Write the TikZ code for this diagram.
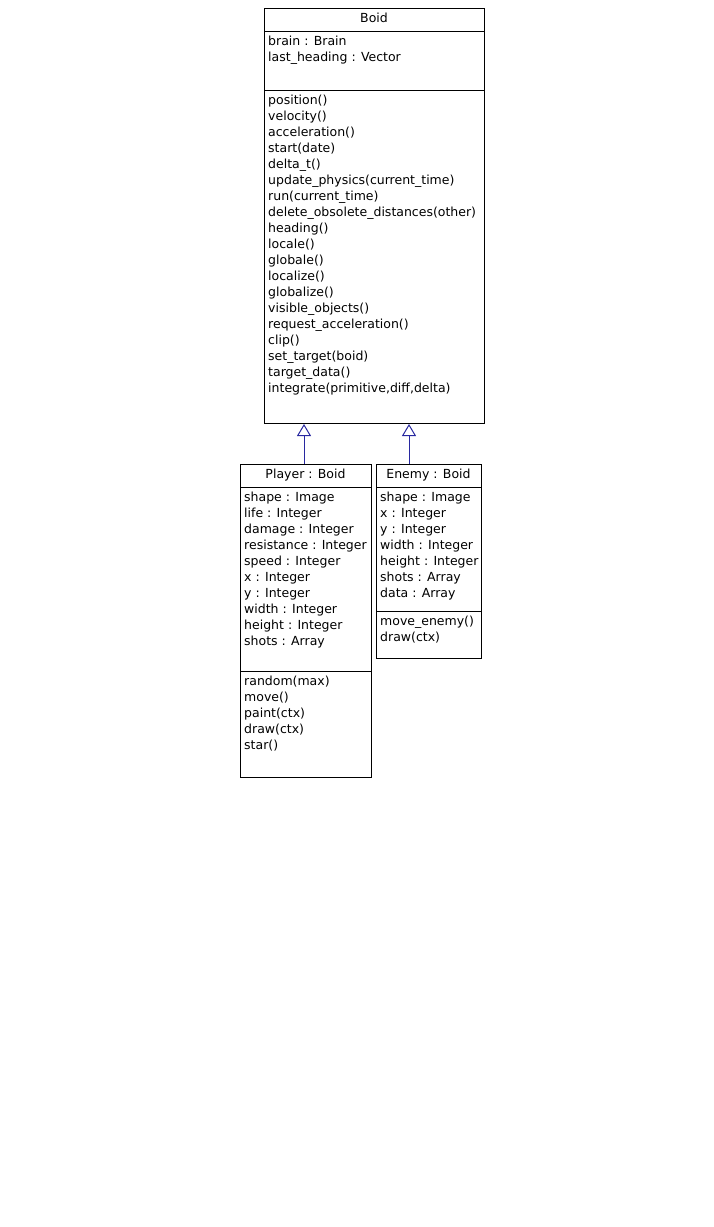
\documentclass[tikz,border=0pt]{standalone}
\usepackage{fontspec}
\setmainfont{DejaVu Sans}
\usetikzlibrary{arrows.meta, positioning, calc}

\definecolor{umlblue}{RGB}{40,40,160}

\tikzset{
  classbox/.style={draw, line width=1pt, anchor=north west, inner sep=0pt},
  member/.style={anchor=base west, inner sep=0pt, font=\fontsize{12.5}{16}\selectfont},
  classname/.style={anchor=base, inner sep=0pt, font=\fontsize{12.5}{16}\selectfont},
  inherit/.style={draw=umlblue, line width=1pt, -{Triangle[open, length=12pt, width=14pt]}},
}

% separator line of a compartment, #2 below the top of box #1
\newcommand{\compsep}[2]{%
  \draw[line width=1pt] ($(#1.north west)+(0,#2)$) -- ($(#1.north east)+(0,#2)$);}

\begin{document}
\begin{tikzpicture}[x=1pt, y=-1pt]

    % Determines the boundries
    \path [use as bounding box] (0,0) rectangle (713,1227);

    % Class boxes
    \node[classbox, minimum width=220pt, minimum height=415pt] (boid)   at (264,8)   {};
    \node[classbox, minimum width=131pt, minimum height=313pt] (player) at (240,464) {};
    \node[classbox, minimum width=105pt, minimum height=194pt] (enemy)  at (376,464) {};

    \compsep{boid}{23}
    \compsep{boid}{82}
    \compsep{player}{23}
    \compsep{player}{207}
    \compsep{enemy}{23}
    \compsep{enemy}{147}

    % Class names
    \node[classname] (boidname)   at (374,22)   {Boid};
    \node[classname] (playername) at (305.5,478) {Player : Boid};
    \node[classname] (enemyname)  at (428.5,478) {Enemy : Boid};

    % Boid
    \foreach \t [count=\i from 0] in {brain : Brain, last\_heading : Vector}
        \node[member] (boida\i) at (268,45+16*\i) {\t};
    \foreach \t [count=\i from 0] in {position(), velocity(), acceleration(),
        start(date), delta\_t(), update\_physics(current\_time), run(current\_time),
        delete\_obsolete\_distances(other), heading(), locale(), globale(),
        localize(), globalize(), visible\_objects(), request\_acceleration(),
        clip(), set\_target(boid), target\_data(), {integrate(primitive,diff,delta)}}
        \node[member] (boidm\i) at (268,104+16*\i) {\t};

    % Player
    \foreach \t [count=\i from 0] in {shape : Image, life : Integer,
        damage : Integer, resistance : Integer, speed : Integer, x : Integer,
        y : Integer, width : Integer, height : Integer, shots : Array}
        \node[member] (playera\i) at (244,501+16*\i) {\t};
    \foreach \t [count=\i from 0] in {random(max), move(), paint(ctx), draw(ctx), star()}
        \node[member] (playerm\i) at (244,685+16*\i) {\t};

    % Enemy
    \foreach \t [count=\i from 0] in {shape : Image, x : Integer, y : Integer,
        width : Integer, height : Integer, shots : Array, data : Array}
        \node[member] (enemya\i) at (380,501+16*\i) {\t};
    \foreach \t [count=\i from 0] in {move\_enemy(), draw(ctx)}
        \node[member] (enemym\i) at (380,625+16*\i) {\t};

    % Generalisation
    \coordinate (pa) at (304,464);
    \coordinate (ea) at (409,464);
    \draw[inherit] (pa) -- (pa |- boid.south);
    \draw[inherit] (ea) -- (ea |- boid.south);

\end{tikzpicture}
\end{document}
